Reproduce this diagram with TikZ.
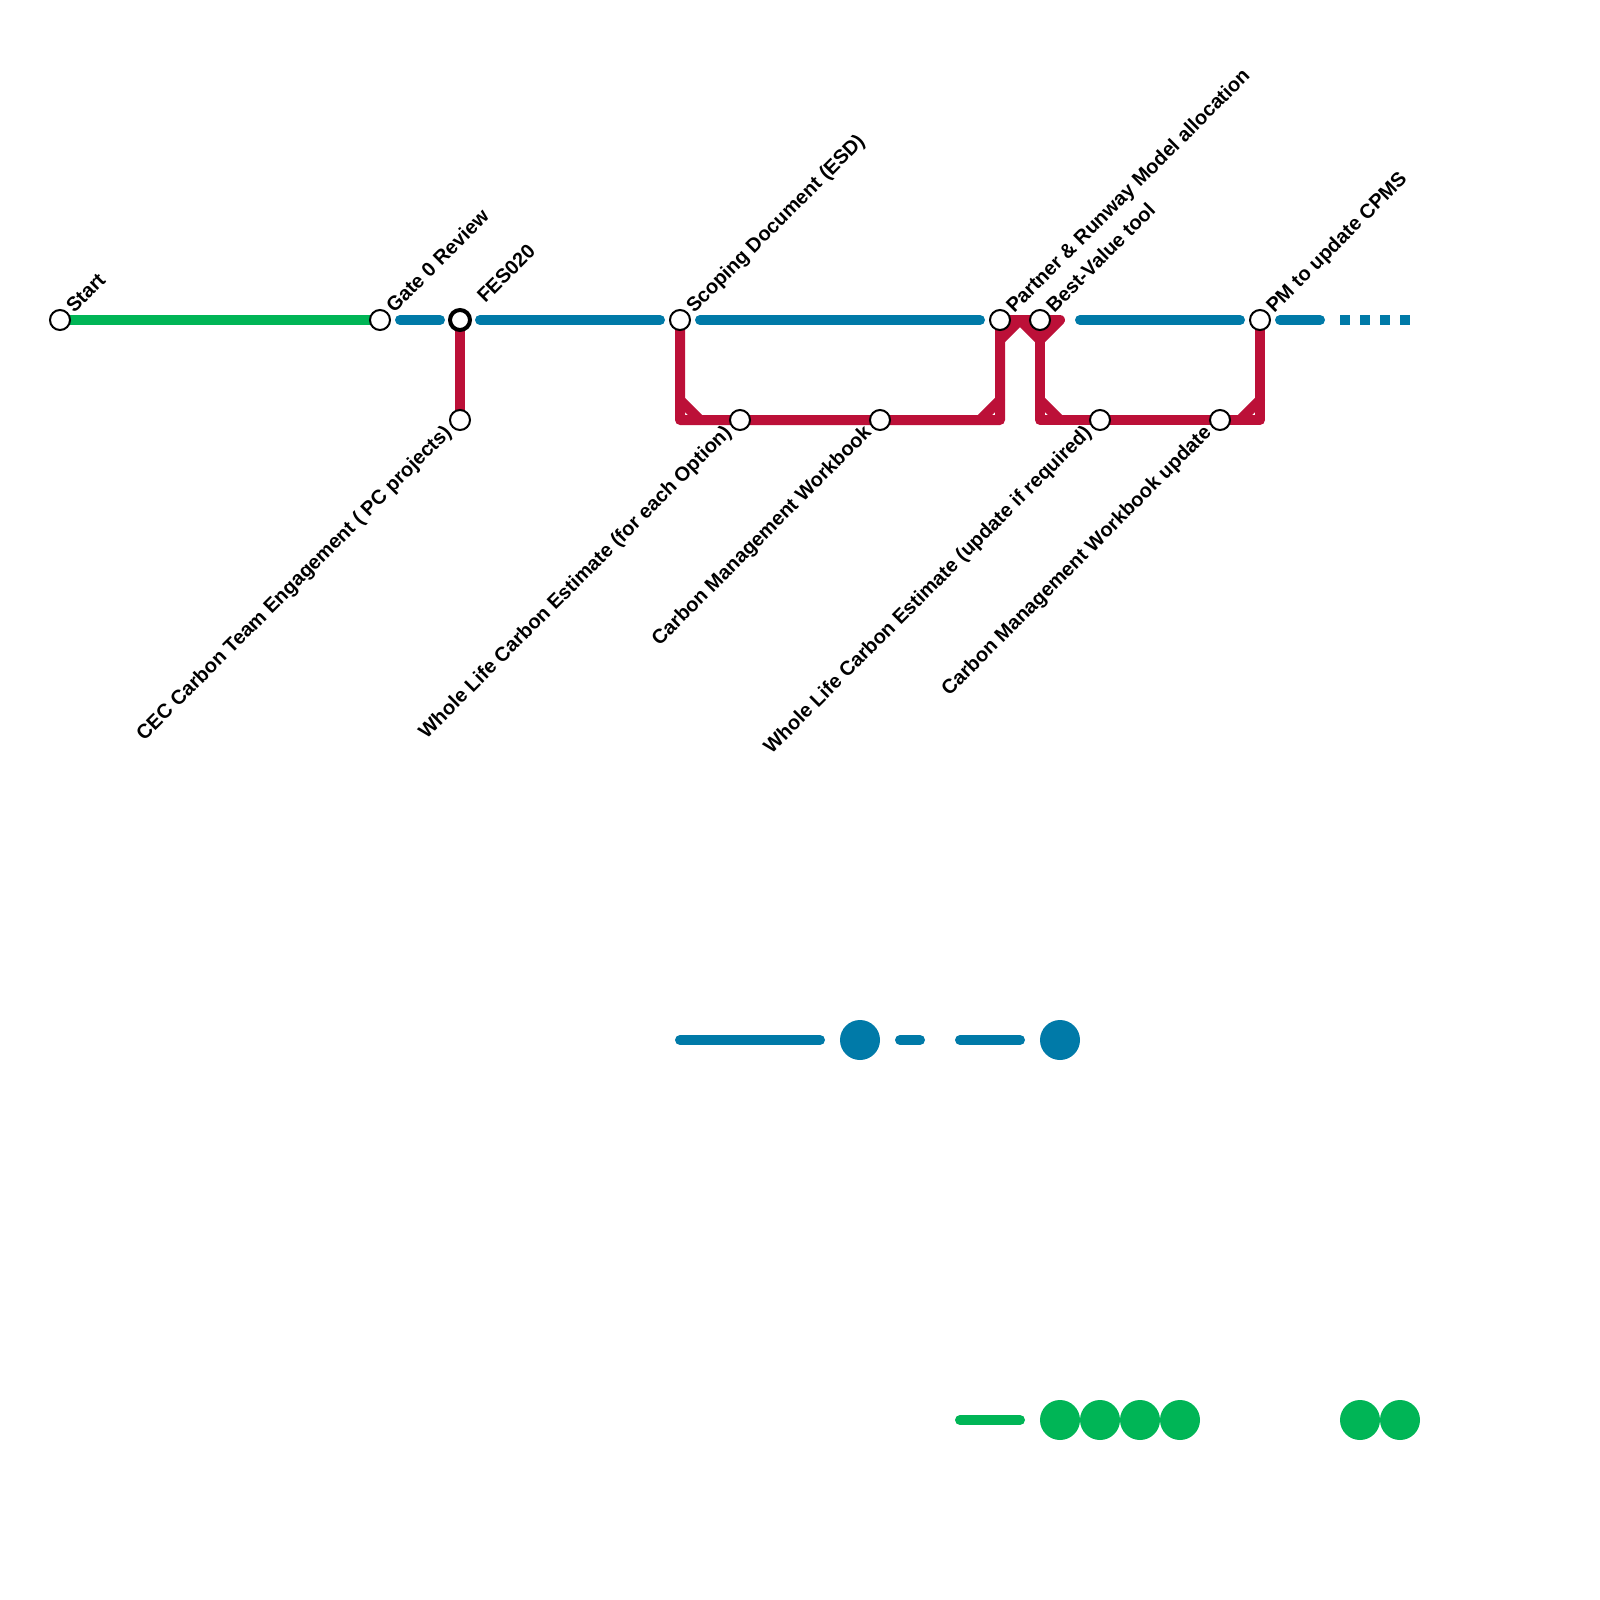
\documentclass[tikz,border=0pt]{standalone}
\usepackage{fontspec}
\setmainfont{Liberation Sans}
\usetikzlibrary{backgrounds}
\definecolor{lineblue}{RGB}{0,122,168}
\definecolor{linered}{RGB}{188,16,56}
\definecolor{linegreen}{RGB}{0,181,86}
\tikzset{
  station/.style={circle,draw=black,fill=white,line width=1pt,minimum size=10pt,inner sep=0pt},
  bigstation/.style={station,line width=2pt},
  upperlabel/.style={rotate=45,anchor=base west,inner sep=0pt,font=\fontsize{10}{12}\selectfont\bfseries},
  lowerlabel/.style={rotate=45,anchor=north east,inner sep=0pt,font=\fontsize{10}{12}\selectfont\bfseries},
  blueline/.style={lineblue,line width=5pt,line cap=round},
  greenline/.style={linegreen,line width=5pt,line cap=round},
  redline/.style={linered,line width=5pt,line cap=round,line join=round},
  bluedot/.style={circle,fill=lineblue,minimum size=20pt,inner sep=0pt},
  greendot/.style={circle,fill=linegreen,minimum size=20pt,inner sep=0pt},
  bluesquare/.style={rectangle,fill=lineblue,minimum size=5pt,inner sep=0pt}
}
\begin{document}
\begin{tikzpicture}[x=0.5pt,y=-0.5pt]
  % Coordinates are reference pixels, y runs downwards.
  \useasboundingbox (0,0) rectangle (1600,1600);
  \foreach \name/\x in {start/60,gate/380,scoping/680,partner/1000,best/1040,pm/1260}{\node[station] (\name) at (\x,320) {};}
  \node[bigstation] (fes) at (460,320) {};
  \foreach \name/\x in {cec/460,wlc/740,cmw/880,wlcup/1100,cmwup/1220}{\node[station] (\name) at (\x,420) {};}
  % free ends of the lines
  \foreach \name/\x/\y in {a1/400/320,a2/440/320,b1/480/320,b2/660/320,c1/700/320,c2/980/320,d1/1080/320,d2/1240/320,e1/1280/320,e2/1320/320,
    tr/1060/320,pa/1000/340,pb/1020/320,pc/1040/340,cn1/680/420,cn2/1000/420,cn3/1040/420,cn4/1260/420,
    s1a/680/400,s1b/700/420,s2a/980/420,s2b/1000/400,s3a/1040/400,s3b/1060/420,s4a/1240/420,s4b/1260/400,
    k1/680/1040,k2/820/1040,k3/900/1040,k4/920/1040,k5/960/1040,k6/1020/1040,k7/960/1420,k8/1020/1420}{\coordinate (\name) at (\x,\y);}
  \begin{scope}[on background layer]
    \draw[greenline] (start.center) -- (gate.center);
    \draw[blueline] (a1) -- (a2);
    \draw[blueline] (b1) -- (b2);
    \draw[blueline] (c1) -- (c2);
    \draw[blueline] (d1) -- (d2);
    \draw[blueline] (e1) -- (e2);
    \draw[redline] (fes.center) -- (cec.center);
    \draw[redline] (scoping.center) -- (cn1) -- (cn2) -- (partner.center) -- (tr) -- (pc) -- (pb);
    \draw[redline] (best.center) -- (cn3) -- (cn4) -- (pm.center);
    \draw[redline] (pa) -- (pb);
    \draw[redline] (s1a) -- (s1b);
    \draw[redline] (s2a) -- (s2b);
    \draw[redline] (s3a) -- (s3b);
    \draw[redline] (s4a) -- (s4b);
    \draw[blueline] (k1) -- (k2);
    \draw[blueline] (k3) -- (k4);
    \draw[blueline] (k5) -- (k6);
    \draw[greenline] (k7) -- (k8);
  \end{scope}
  \foreach \x in {1345,1365,1385,1405}{\node[bluesquare] (sq\x) at (\x,320) {};}
  \foreach \x in {860,1060}{\node[bluedot] (bd\x) at (\x,1040) {};}
  \foreach \x in {1060,1100,1140,1180,1360,1400}{\node[greendot] (gd\x) at (\x,1420) {};}
  % labels
  \foreach \name/\x/\y/\lab in {lstart/74/314/Start,lgate/394/314/Gate 0 Review,lfes/485/304/FES020,lscop/694/314/Scoping Document (ESD),
    lpart/1014/314/Partner \& Runway Model allocation,lbest/1054/314/Best-Value tool,lpm/1274/314/PM to update CPMS}{\node[upperlabel] (\name) at (\x,\y) {\lab};}
  \foreach \name/\x/\y/\lab in {lcec/442/423/CEC Carbon Team Engagement ( PC projects),lwlc/722/423/Whole Life Carbon Estimate (for each Option),lcmw/862/423/Carbon Management Workbook,
    lwlcup/1082/423/Whole Life Carbon Estimate (update if required),lcmwup/1202/423/Carbon Management Workbook update}{\node[lowerlabel] (\name) at (\x,\y) {\lab};}
\end{tikzpicture}
\end{document}
